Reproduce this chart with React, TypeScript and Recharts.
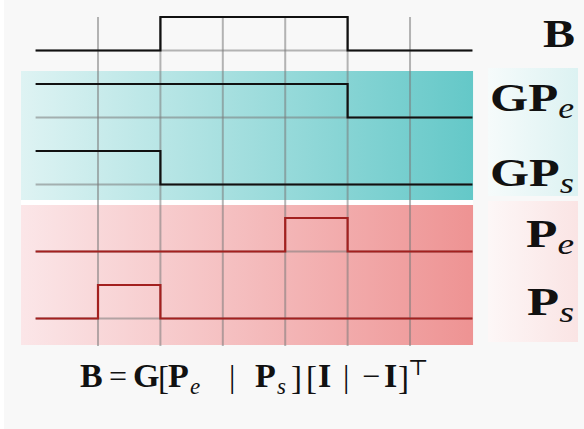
import React from "react";
import {
  ComposedChart,
  Line,
  XAxis,
  YAxis,
  ReferenceArea,
  ReferenceLine,
} from "recharts";

// time steps and the 0/1 level of each signal (stepAfter)
const steps = [0, 1, 2, 3, 4, 5, 6, 7];
const gridTicks = [1, 2, 3, 4, 5, 6];
const sigB = [0, 0, 1, 1, 1, 0, 0, 0];
const sigGPe = [1, 1, 1, 1, 1, 0, 0, 0];
const sigGPs = [1, 1, 0, 0, 0, 0, 0, 0];
const sigPe = [0, 0, 0, 0, 1, 0, 0, 0];
const sigPs = [0, 1, 0, 0, 0, 0, 0, 0];

// each lane sits two units above the next one
const lanes = [
  { key: "B", levels: sigB, base: 8, color: "#111" },
  { key: "GPe", levels: sigGPe, base: 6, color: "#111" },
  { key: "GPs", levels: sigGPs, base: 4, color: "#111" },
  { key: "Pe", levels: sigPe, base: 2, color: "#a3201f" },
  { key: "Ps", levels: sigPs, base: 0, color: "#a3201f" },
];

const data = steps.map((t, i) => {
  const row: Record<string, number> = { t };
  lanes.forEach((l) => (row[l.key] = l.base + l.levels[i]));
  return row;
});

const W = 584;
const H = 429;
const serif = "'Liberation Serif', 'DejaVu Serif', serif";

function Label({
  x,
  y,
  w,
  main,
  sub,
}: {
  x: number;
  y: number;
  w: number;
  main: string;
  sub?: string;
}) {
  return (
    <text
      x={x}
      y={y}
      textAnchor="end"
      fontFamily={serif}
      fontSize={40}
      fill="#111"
      textLength={w}
      lengthAdjust="spacingAndGlyphs"
    >
      <tspan fontWeight="bold">{main}</tspan>
      {sub && (
        <tspan fontStyle="italic" fontSize={29} dy={7}>
          {sub}
        </tspan>
      )}
    </text>
  );
}

// one glyph group of the formula under the chart
function F({
  x,
  y = 387,
  size = 32,
  bold,
  italic,
  children,
}: {
  x: number;
  y?: number;
  size?: number;
  bold?: boolean;
  italic?: boolean;
  children: React.ReactNode;
}) {
  return (
    <text
      x={x}
      y={y}
      fontFamily={serif}
      fontSize={size}
      fontWeight={bold ? "bold" : "normal"}
      fontStyle={italic ? "italic" : "normal"}
      fill="#111"
    >
      {children}
    </text>
  );
}

export default function App() {
  return (
    <div style={{ position: "relative", width: W, height: H, background: "#f8f8f8" }}>
      <style>{"body{margin:0;background:#f8f8f8}"}</style>
      <div style={{ position: "absolute", left: 0, top: 0, width: 4, height: H, background: "#fff" }} />
      <ComposedChart
        width={W}
        height={H}
        data={data}
        margin={{ top: 0, right: 0, bottom: 0, left: 0 }}
      >
        <defs>
          <linearGradient id="tealBox" x1="0" y1="0" x2="1" y2="0">
            <stop offset="0%" stopColor="#def3f3" />
            <stop offset="100%" stopColor="#64c8c8" />
          </linearGradient>
          <linearGradient id="redBox" x1="0" y1="0" x2="1" y2="0">
            <stop offset="0%" stopColor="#fbe6e8" />
            <stop offset="100%" stopColor="#ee9393" />
          </linearGradient>
          <linearGradient id="tealLabel" x1="0" y1="0" x2="1" y2="0">
            <stop offset="0%" stopColor="#f6fbfb" />
            <stop offset="100%" stopColor="#dcf2f2" />
          </linearGradient>
          <linearGradient id="redLabel" x1="0" y1="0" x2="1" y2="0">
            <stop offset="0%" stopColor="#fdf7f7" />
            <stop offset="100%" stopColor="#fae4e4" />
          </linearGradient>
        </defs>
        <XAxis
          dataKey="t"
          type="number"
          domain={[-0.5705, 8.788]}
          allowDataOverflow
          hide
        />
        <YAxis type="number" domain={[-3.299, 9.507]} allowDataOverflow hide />

        <ReferenceArea x1={-0.234} x2={7.01} y1={-0.791} y2={7.388} fill="#ffffff" fillOpacity={1} />
        <ReferenceArea x1={-0.234} x2={7.01} y1={3.537} y2={7.388} fill="url(#tealBox)" fillOpacity={1} />
        <ReferenceArea x1={-0.234} x2={7.01} y1={-0.791} y2={3.388} fill="url(#redBox)" fillOpacity={1} />
        <ReferenceArea x1={7.25} x2={8.692} y1={3.657} y2={7.478} fill="url(#tealLabel)" fillOpacity={1} />
        <ReferenceArea x1={7.25} x2={8.692} y1={-0.701} y2={3.507} fill="url(#redLabel)" fillOpacity={1} />

        {gridTicks.map((t) => (
          <ReferenceLine
            key={"v" + t}
            segment={[
              { x: t, y: 9 },
              { x: t, y: -0.821 },
            ]}
            stroke="#7a7a7a"
            strokeOpacity={0.55}
            strokeWidth={2}
          />
        ))}
        {lanes.map((l) => (
          <ReferenceLine
            key={"h" + l.key}
            segment={[
              { x: 0, y: l.base },
              { x: 7, y: l.base },
            ]}
            stroke="#7a7a7a"
            strokeOpacity={0.55}
            strokeWidth={2}
          />
        ))}

        {lanes.map((l) => (
          <Line
            key={l.key}
            dataKey={l.key}
            type="stepAfter"
            stroke={l.color}
            strokeWidth={2.2}
            dot={false}
            activeDot={false}
            isAnimationActive={false}
          />
        ))}
      </ComposedChart>

      <svg
        width={W}
        height={H}
        style={{ position: "absolute", left: 0, top: 0, pointerEvents: "none" }}
      >
        <Label x={575} y={47} w={32} main="B" />
        <Label x={574} y={111} w={84} main="GP" sub="e" />
        <Label x={574} y={186} w={84} main="GP" sub="s" />
        <Label x={574} y={247} w={48} main="P" sub="e" />
        <Label x={574} y={315} w={47} main="P" sub="s" />

        <F x={80} size={34} bold>B</F>
        <F x={109}>=</F>
        <F x={133} size={34} bold>G</F>
        <F x={158} y={389} size={33}>[</F>
        <F x={168} size={34} bold>P</F>
        <F x={190} y={394} size={23} italic>e</F>
        <F x={229}>|</F>
        <F x={255} size={34} bold>P</F>
        <F x={277} y={394} size={23} italic>s</F>
        <F x={291} y={389} size={33}>]</F>
        <F x={306} y={389} size={33}>[</F>
        <F x={318} size={34} bold>I</F>
        <F x={343}>|</F>
        <F x={362}>−</F>
        <F x={384} size={34} bold>I</F>
        <F x={398} y={389} size={33}>]</F>
        <F x={408} y={375} size={22}>⊤</F>
      </svg>
    </div>
  );
}
